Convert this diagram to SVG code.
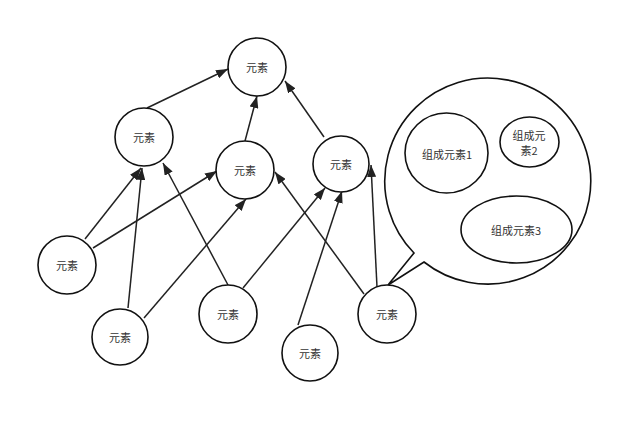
<svg xmlns="http://www.w3.org/2000/svg" width="640" height="432" viewBox="0 0 640 432">
<style>
.n{fill:#fff;stroke:#111;stroke-width:1.6}
.t{font-family:"Noto Sans CJK SC","Noto Sans",sans-serif;font-size:11px;fill:#333;text-anchor:middle;dominant-baseline:central}
.e{stroke:#222;stroke-width:1.5;fill:none;marker-end:url(#a)}
</style>
<defs>
<marker id="a" markerUnits="userSpaceOnUse" markerWidth="12" markerHeight="9" refX="12" refY="4.5" orient="auto">
<path d="M0,0 L12,4.5 L0,9 z" fill="#222"/>
</marker>
</defs>
<rect width="640" height="432" fill="#fff"/>
<g id="edges">
<line class="e" x1="147" y1="108" x2="228" y2="69"/>
<line class="e" x1="245" y1="141" x2="257" y2="96"/>
<line class="e" x1="324" y1="137" x2="285" y2="81"/>
<line class="e" x1="85" y1="239" x2="141" y2="168"/>
<line class="e" x1="128" y1="308" x2="142" y2="168"/>
<line class="e" x1="228" y1="285" x2="163" y2="163"/>
<line class="e" x1="93" y1="248" x2="217" y2="171"/>
<line class="e" x1="144" y1="318" x2="246" y2="199"/>
<line class="e" x1="243" y1="288" x2="325" y2="188"/>
<line class="e" x1="364" y1="294" x2="275" y2="172"/>
<line class="e" x1="298" y1="325" x2="342" y2="191"/>
<line class="e" x1="377" y1="287" x2="371" y2="165"/>
</g>
<g id="bubble">
<path class="n" d="M424,262 A103,103 0 1 0 414,253 L388,285 Z"/>
</g>
<g id="top"><circle class="n" cx="257" cy="67" r="29"/><text class="t" x="257" y="67">元素</text></g>
<g id="nA"><circle class="n" cx="144" cy="137" r="29"/><text class="t" x="144" y="137">元素</text></g>
<g id="nB"><circle class="n" cx="245" cy="170" r="29"/><text class="t" x="245" y="170">元素</text></g>
<g id="nC"><circle class="n" cx="341" cy="164" r="28"/><text class="t" x="341" y="164">元素</text></g>
<g id="nD"><circle class="n" cx="67" cy="265" r="29"/><text class="t" x="67" y="265">元素</text></g>
<g id="nE"><circle class="n" cx="120" cy="337" r="28"/><text class="t" x="120" y="337">元素</text></g>
<g id="nF"><circle class="n" cx="228" cy="314" r="29"/><text class="t" x="228" y="314">元素</text></g>
<g id="nG"><circle class="n" cx="310" cy="353" r="28"/><text class="t" x="310" y="353">元素</text></g>
<g id="nH"><circle class="n" cx="387" cy="314" r="29"/><text class="t" x="387" y="314">元素</text></g>
<g id="c1"><ellipse class="n" cx="446.5" cy="153" rx="41.5" ry="40"/><text class="t" x="447" y="154">组成元素1</text></g>
<g id="c2"><ellipse class="n" cx="529.5" cy="142" rx="29.5" ry="25"/><text class="t" x="529" y="134.5">组成元</text><text class="t" x="529" y="150">素2</text></g>
<g id="c3"><ellipse class="n" cx="516.5" cy="229.5" rx="55.5" ry="33.5"/><text class="t" x="516" y="230">组成元素3</text></g>
</svg>
